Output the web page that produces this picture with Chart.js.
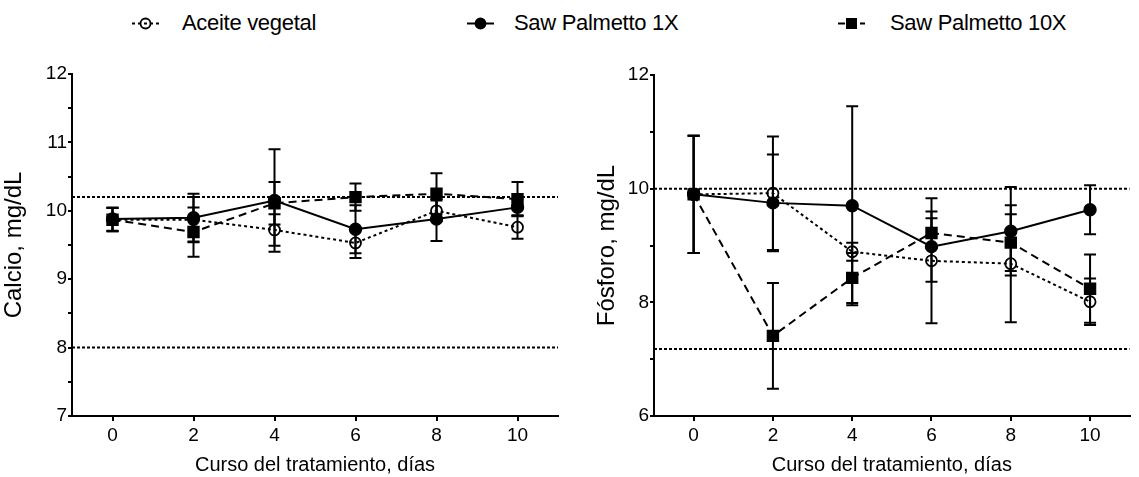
<!DOCTYPE html>
<html>
<head>
<meta charset="utf-8">
<script src="https://cdn.jsdelivr.net/npm/chart.js@4.4.0/dist/chart.umd.min.js"></script>
<style>
  body { margin: 0; background: #fff; width: 1139px; height: 477px; position: relative; overflow: hidden;
         font-family: 'Liberation Sans', Arial, sans-serif; color: #000; }
  .item { position: absolute; top: 10px; height: 26px; line-height: 26px; font-size: 22px; letter-spacing: -0.3px; white-space: nowrap; }
  .sym { position: absolute; top: 10px; }
  #calcio { position: absolute; left: 0; top: 50px; }
  #fosforo { position: absolute; left: 570px; top: 50px; }
</style>
</head>
<body>
<div id="legend"></div>
<canvas id="calcio" width="570" height="427"></canvas>
<canvas id="fosforo" width="569" height="427"></canvas>
<script>
// days of treatment
let days = [0, 2, 4, 6, 8, 10];
let seriesNames = ['Aceite vegetal', 'Saw Palmetto 1X', 'Saw Palmetto 10X'];

// calcio, mg/dL  (mean and error)
let calcioAceite = [9.87, 9.87, 9.72, 9.53, 10.0, 9.76];
let calcioAceiteErr = [0.17, 0.33, 0.23, 0.22, 0.15, 0.17];
let calcioSP1 = [9.88, 9.9, 10.15, 9.73, 9.88, 10.05];
let calcioSP1Err = [0.17, 0.35, 0.75, 0.35, 0.32, 0.12];
let calcioSP10 = [9.87, 9.69, 10.11, 10.2, 10.25, 10.17];
let calcioSP10Err = [0.17, 0.36, 0.31, 0.2, 0.3, 0.25];
let calcioRefs = [10.2, 8.0];

// fosforo, mg/dL
let fosforoAceite = [9.9, 9.92, 8.89, 8.73, 8.68, 8.01];
let fosforoAceiteErr = [1.03, 1.0, 0.16, 1.1, 1.03, 0.41];
let fosforoSP1 = [9.9, 9.75, 9.7, 8.98, 9.25, 9.63];
let fosforoSP1Err = [1.03, 0.85, 1.75, 0.62, 0.78, 0.43];
let fosforoSP10 = [9.9, 7.41, 8.43, 9.22, 9.05, 8.24];
let fosforoSP10Err = [1.03, 0.93, 0.44, 0.26, 0.5, 0.6];
let fosforoRefs = [10.0, 7.18];

let xTicks = [0, 2, 4, 6, 8, 10];

//styles per series
let styles = [
  { dash: [3, 3], pointStyle: 'circle', radius: 5.5, fill: 'rgba(0,0,0,0)' },
  { dash: [], pointStyle: 'circle', radius: 5.8, fill: '#000' },
  { dash: [8, 5], pointStyle: 'rect', radius: 7.5, fill: '#000' }
];

function buildLegend() {
  let legend = document.getElementById('legend');
  let symX = [132, 467, 838];
  let textX = [182, 514, 890];
  seriesNames.forEach((name, i) => {
    let st = styles[i];
    let marker = st.pointStyle === 'rect'
      ? '<rect x="8" y="8" width="11" height="11" fill="#000"/>'
      : '<circle cx="13.5" cy="13.5" r="5" fill="' + (st.fill === '#000' ? '#000' : 'none') + '" stroke="#000" stroke-width="1.8"/>';
    let sym = document.createElement('div');
    sym.className = 'sym';
    sym.style.left = symX[i] + 'px';
    sym.innerHTML = '<svg width="27" height="27"><line x1="0" y1="13.5" x2="27" y2="13.5" stroke="#000" stroke-width="2"' +
      (st.dash.length ? ' stroke-dasharray="' + (i === 0 ? '3,3' : '7,4') + '"' : '') + '/>' + marker + '</svg>';
    legend.appendChild(sym);
    let t = document.createElement('div');
    t.className = 'item';
    t.style.left = textX[i] + 'px';
    t.textContent = name;
    legend.appendChild(t);
  });
}

let errorBars = {
  id: 'errorBars',
  beforeDatasetsDraw(chart) {
    let ctx = chart.ctx;
    let xs = chart.scales.x;
    let ys = chart.scales.y;
    ctx.save();
    ctx.strokeStyle = '#000';
    ctx.lineWidth = 2;
    chart.data.datasets.forEach(ds => {
      if (!ds.err) return;
      ds.data.forEach((p, j) => {
        let px = xs.getPixelForValue(p.x);
        let top = ys.getPixelForValue(p.y + ds.err[j]);
        let bot = ys.getPixelForValue(p.y - ds.err[j]);
        ctx.beginPath();
        ctx.moveTo(px, top); ctx.lineTo(px, bot);
        ctx.moveTo(px - 6, top); ctx.lineTo(px + 6, top);
        ctx.moveTo(px - 6, bot); ctx.lineTo(px + 6, bot);
        ctx.stroke();
      });
    });
    ctx.restore();
  }
};

function seriesSet(values, errs) {
  return values.map((v, i) => {
    let st = styles[i];
    return {
      label: seriesNames[i],
      data: days.map((d, j) => ({ x: d, y: v[j] })),
      err: errs[i],
      borderColor: '#000',
      borderWidth: 2,
      borderDash: st.dash,
      pointStyle: st.pointStyle,
      pointRadius: st.radius,
      pointBackgroundColor: st.fill,
      pointBorderColor: '#000',
      pointBorderWidth: 1.8,
      fill: false,
      tension: 0
    };
  });
}

function refSet(refs) {
  return refs.map(r => ({
    label: 'ref',
    data: [{ x: -1, y: r }, { x: 11, y: r }],
    borderColor: '#000',
    borderWidth: 2,
    borderDash: [3, 2],
    pointRadius: 0,
    fill: false
  }));
}

function createChart(id, sets, yMin, yMax, yStep, yTitle, yWidth, pad) {
  let ctx = document.getElementById(id).getContext('2d');
  return new Chart(ctx, {
    type: 'line',
    data: { datasets: sets },
    plugins: [errorBars],
    options: {
      responsive: false,
      animation: false,
      layout: { padding: pad },
      plugins: { legend: { display: false }, tooltip: { enabled: false } },
      scales: {
        x: {
          type: 'linear', min: -1, max: 11,
          afterBuildTicks: s => { s.ticks = xTicks.map(v => ({ value: v })); },
          afterFit: s => { s.height = 61; },
          grid: { drawOnChartArea: false, drawTicks: true, tickLength: 5, color: '#000', lineWidth: 2 },
          border: { color: '#000', width: 2 },
          ticks: { color: '#000', font: { size: 19, family: 'Liberation Sans' }, padding: 3, maxRotation: 0 },
          title: { display: true, text: 'Curso del tratamiento, días', color: '#000',
                   font: { size: 20, family: 'Liberation Sans' }, padding: { top: 0, bottom: 0 } }
        },
        y: {
          min: yMin, max: yMax,
          ticks: { stepSize: yStep, color: '#000', font: { size: 19, family: 'Liberation Sans' }, padding: 1,
                   callback: v => (v % 2 === 0 || (yStep === 0.5 && Number.isInteger(v))) ? v : '' },
          afterFit: s => { s.width = yWidth; },
          grid: { drawOnChartArea: false, drawTicks: true, tickLength: 4, color: '#000', lineWidth: 2 },
          border: { color: '#000', width: 2 },
          title: { display: true, text: yTitle, color: '#000',
                   font: { size: 24, family: 'Liberation Sans' }, padding: { top: 0, bottom: 0 } }
        }
      }
    }
  });
}

buildLegend();

createChart('calcio',
  seriesSet([calcioAceite, calcioSP1, calcioSP10], [calcioAceiteErr, calcioSP1Err, calcioSP10Err]).concat(refSet(calcioRefs)),
  7, 12, 0.5, 'Calcio, mg/dL', 72, { top: 24, right: 12, bottom: 0, left: 0 });

createChart('fosforo',
  seriesSet([fosforoAceite, fosforoSP1, fosforoSP10], [fosforoAceiteErr, fosforoSP1Err, fosforoSP10Err]).concat(refSet(fosforoRefs)),
  6, 12, 1, 'Fósforo, mg/dL', 61, { top: 25, right: 2, bottom: 0, left: 23 });
</script>
</body>
</html>
